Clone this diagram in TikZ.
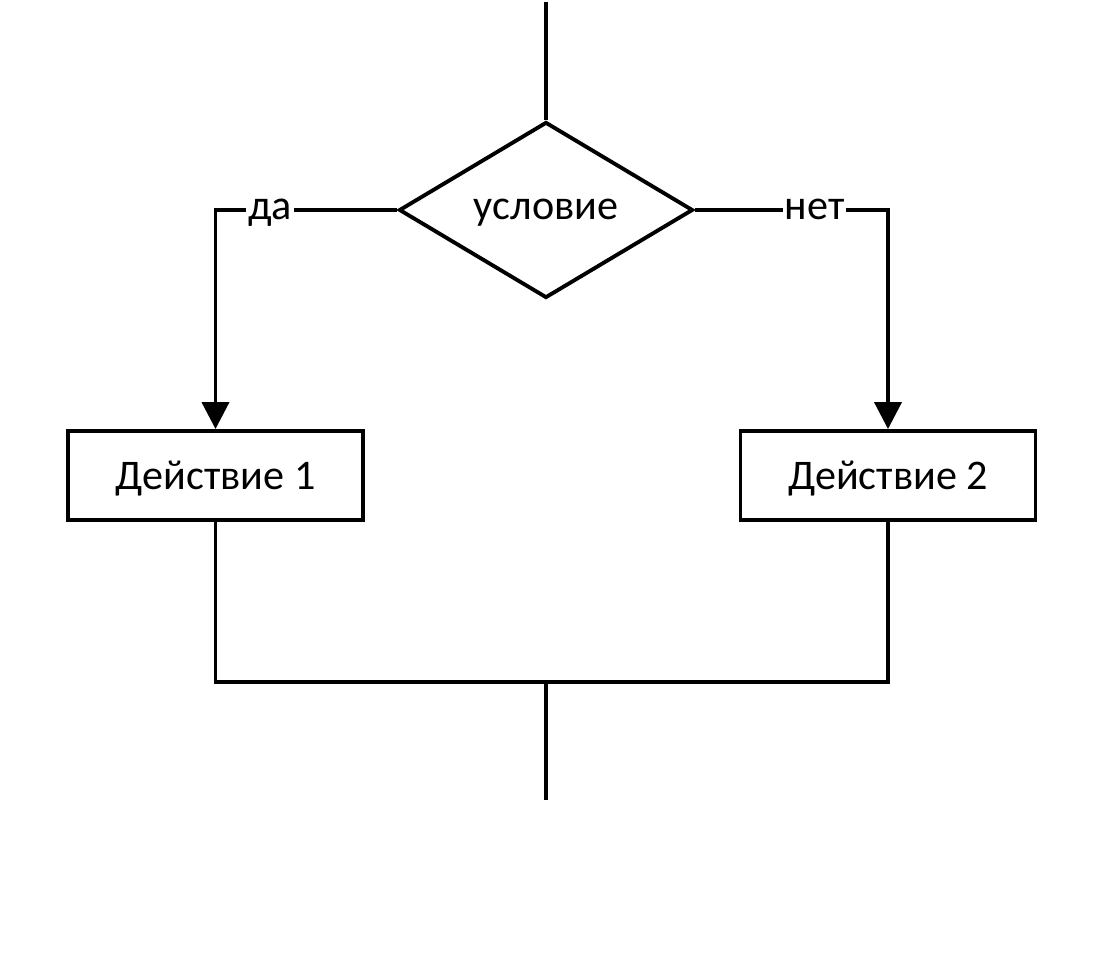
\documentclass[tikz,border=0pt]{standalone}
\usepackage{fontspec}
\setmainfont{Carlito}
\usetikzlibrary{shapes.geometric,arrows.meta}

\tikzset{
  flow/.style={line width=2.2pt},
  arr/.style={-{Triangle[width=0.54cm,length=0.54cm]}},
  block/.style={draw, line width=2.2pt, minimum width=5.9cm, minimum height=1.78cm,
    inner sep=0pt, text height=15.5pt, text depth=0pt, font=\fontsize{24}{28}\selectfont},
  cond/.style={diamond, draw, line width=2.2pt, minimum width=5.88cm, minimum height=3.52cm,
    aspect=1.67, inner sep=0pt, text height=11.2pt, text depth=0pt, font=\fontsize{24}{28}\selectfont},
  lbl/.style={fill=white, inner sep=1pt, text height=11.2pt, text depth=0pt, font=\fontsize{24}{28}\selectfont}
}

\begin{document}
\begin{tikzpicture}[x=0.02cm,y=-0.02cm]
  %%%%% frame %%%%%
  \useasboundingbox (0,0) rectangle (1100,955);

  \coordinate (start) at (546,2);
  \node[cond] (cnd) at (546,210) {условие};
  \node[block] (act1) at (215.5,475.5) {Действие 1};
  \node[block] (act2) at (888,475.5) {Действие 2};
  \coordinate (merge) at (546,682);
  \coordinate (stop) at (546,800);

  %%%%% lines %%%%%
  \draw[flow] (start) -- (cnd.north);
  \draw[flow,arr] (cnd.west) -| (act1.north) node[lbl,pos=0.35] (yes) {да};
  \draw[flow,arr] (cnd.east) -| (act2.north) node[lbl,pos=0.31] (no) {нет};
  \draw[flow] (act1.south) |- (merge) -| (act2.south);
  \draw[flow] (merge) -- (stop);
\end{tikzpicture}
\end{document}
